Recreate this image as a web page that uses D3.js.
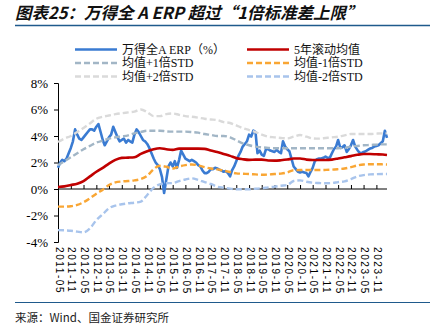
<!DOCTYPE html>
<html><head><meta charset="utf-8">
<script src="https://cdn.jsdelivr.net/npm/d3@7"></script>
<style>
html,body{margin:0;padding:0;background:#fff;}
svg{display:block;}
</style></head>
<body>
<svg id="chart" width="430" height="331"></svg>
<script>
// ---- data ----
const startMonth = "2011-05";
const tickLabels = ["2011-05","2011-11","2012-05","2012-11","2013-05","2013-11","2014-05","2014-11",
  "2015-05","2015-11","2016-05","2016-11","2017-05","2017-11","2018-05","2018-11","2019-05","2019-11",
  "2020-05","2020-11","2021-05","2021-11","2022-05","2022-11","2023-05","2023-11"];
const yTicks = [-4, -2, 0, 2, 4, 6, 8];

// monthly ERP (%) from 2011-05
const erpValues = [1.6,2.0,2.2,2.1,2.3,2.7,3.1,3.6,4.5,4.1,3.8,3.7,3.9,4.1,4.3,4.5,4.5,4.4,4.7,4.9,
  4.3,3.7,3.3,3.6,3.9,4.1,4.7,4.3,3.9,3.6,3.7,3.8,3.5,3.7,3.6,3.5,4.1,4.5,4.3,4.0,
  3.7,3.6,3.4,3.1,2.7,2.3,2.0,1.8,1.5,0.9,-0.3,0.7,1.7,2.0,1.7,2.1,1.6,2.2,2.9,2.6,
  2.3,2.2,2.1,2.2,2.1,2.0,1.8,1.7,1.4,1.2,1.2,1.3,1.5,1.5,1.6,1.55,1.45,1.4,1.3,1.35,
  1.2,0.95,1.4,1.7,2.1,2.5,2.8,3.2,3.4,3.6,4.1,3.95,4.4,4.3,2.7,2.9,2.6,2.5,3.0,3.0,
  2.9,2.85,2.8,2.95,2.8,2.7,3.6,3.2,3.0,2.85,2.3,1.7,1.5,1.3,1.25,1.3,1.25,1.2,0.95,1.3,
  1.6,2.1,2.25,2.3,2.3,2.35,2.45,2.35,2.35,2.7,3.0,3.2,3.7,3.1,3.15,3.3,2.8,3.0,3.3,3.7,
  3.2,2.95,2.75,2.7,2.8,2.85,2.95,3.05,3.1,3.2,3.25,3.3,3.45,3.6,4.4,3.85];

// band series, month offsets from 2011-05
const bandMonths = [0,3,6,9,12,15,18,21,24,27,30,33,36,39,42,45,48,51,54,57,60,63,66,69,72,75,78,81,84,87,
  90,93,96,99,102,105,108,111,114,117,120,123,126,129,132,135,138,141,144,147,150,153,155];
const rollingMean = [0.15,0.2,0.3,0.4,0.6,0.95,1.3,1.6,1.92,2.2,2.35,2.37,2.4,2.65,2.85,3.0,3.07,3.0,2.95,3.05,
  3.05,3.05,3.05,3.03,2.9,2.8,2.65,2.5,2.33,2.25,2.2,2.22,2.22,2.15,2.14,2.17,2.22,2.3,2.3,2.22,
  2.19,2.19,2.19,2.22,2.3,2.39,2.48,2.58,2.64,2.64,2.62,2.6,2.57];
const upper1 = [1.8,2.1,2.4,2.7,3.0,3.25,3.5,3.65,3.8,3.9,3.97,4.05,4.2,4.3,4.4,4.4,4.4,4.35,4.33,4.33,
  4.33,4.3,4.25,4.15,4.08,4.0,4.0,3.9,3.68,3.45,3.3,3.2,3.15,3.1,3.07,3.07,3.07,3.07,3.07,3.07,
  3.07,3.07,3.07,3.07,3.08,3.1,3.2,3.25,3.3,3.32,3.35,3.37,3.37];
const lower1 = [-1.33,-1.33,-1.3,-1.2,-1.0,-0.7,-0.35,-0.05,0.3,0.5,0.57,0.6,0.65,0.75,1.0,1.5,1.75,1.68,1.55,1.7,
  1.8,1.85,1.78,1.65,1.55,1.48,1.38,1.28,1.18,1.15,1.13,1.1,1.07,1.09,1.13,1.16,1.25,1.42,1.43,1.43,
  1.43,1.43,1.44,1.46,1.5,1.55,1.65,1.78,1.85,1.87,1.87,1.86,1.85];
const upper2 = [3.55,3.8,4.0,4.3,4.6,4.95,5.3,5.45,5.55,5.65,5.72,5.78,5.84,6.0,5.8,5.5,5.5,5.65,5.7,5.6,
  5.5,5.45,5.38,5.3,5.25,5.2,5.05,4.98,4.8,4.6,4.45,4.3,4.1,3.95,3.9,3.85,3.82,3.95,4.07,3.95,
  3.82,3.8,3.85,3.9,3.95,4.05,4.15,4.15,4.15,4.15,4.18,4.2,4.2];
const lower2 = [-3.1,-3.12,-3.15,-3.22,-3.27,-2.97,-2.35,-1.9,-1.45,-1.25,-1.15,-1.08,-1.03,-0.95,-0.45,0.1,0.35,0.43,0.45,0.6,
  0.72,0.8,0.68,0.52,0.38,0.18,0.1,0.03,-0.02,-0.02,-0.02,0.02,0.05,0.12,0.18,0.25,0.3,0.6,0.65,0.55,
  0.48,0.45,0.43,0.45,0.52,0.58,0.75,0.95,1.05,1.1,1.12,1.13,1.13];

const seriesNames = ["万得全A ERP（%）","5年滚动均值","均值+1倍STD","均值-1倍STD","均值+2倍STD","均值-2倍STD"];
const seriesColors = ["#3a7bd2","#c00000","#a2b6c6","#f9a634","#dadada","#a8c4ec"];

// ---- drawing ----
const svg = d3.select("#chart");
const parse = d3.timeParse("%Y-%m");
const start = parse(startMonth);
const monthDate = m => d3.timeMonth.offset(start, m);

const x = d3.scaleTime().domain([start, monthDate(155)]).range([58, 387]);
const y = d3.scaleLinear().domain([-4, 8]).range([242, 83]);

const serif = "'Liberation Serif','Times New Roman','Noto Sans CJK SC',serif";

// title
svg.append("text").attr("x", 15).attr("y", 19)
  .attr("font-family", "'Noto Sans CJK SC',sans-serif")
  .attr("font-size", 16.5).attr("font-weight", "bold").attr("font-style", "italic")
  .attr("fill", "#111")
  .text("图表25：万得全 A ERP 超过“1倍标准差上限”");
svg.append("line").attr("x1", 15).attr("x2", 430).attr("y1", 25.5).attr("y2", 25.5)
  .attr("stroke", "#1f5a8c").attr("stroke-width", 1.5);

// bottom rule and source
svg.append("line").attr("x1", 15).attr("x2", 430).attr("y1", 302.5).attr("y2", 302.5)
  .attr("stroke", "#1f5a8c").attr("stroke-width", 1.2);
svg.append("text").attr("x", 15).attr("y", 322)
  .attr("font-family", "'Noto Sans CJK SC',sans-serif").attr("font-size", 11.5).attr("fill", "#222")
  .text("来源：Wind、国金证券研究所");

// y axis
const yAxis = svg.append("g").attr("transform", "translate(58,0)")
  .call(d3.axisLeft(y).tickValues(yTicks).tickSize(4).tickFormat(d => d + "%"));
yAxis.select(".domain").attr("stroke", "#000");
yAxis.selectAll(".tick line").attr("stroke", "#000");
yAxis.selectAll("text").attr("font-family", serif).attr("font-size", 13).attr("fill", "#000").attr("x", -10);

// x axis at 0 with ticks inward (up)
const tickDates = tickLabels.map(parse);
const xAxis = svg.append("g").attr("transform", `translate(0,${y(0)})`)
  .call(d3.axisTop(x).tickValues(tickDates).tickSize(4).tickFormat(""));
xAxis.select(".domain").attr("stroke", "#000").attr("d", `M58,0H387`);
xAxis.selectAll(".tick line").attr("stroke", "#000");

// x labels at bottom, rotated
svg.append("g").selectAll("text").data(tickLabels).join("text")
  .attr("transform", d => `translate(${x(parse(d)) + 1},247) rotate(90)`)
  .attr("font-family", "'Liberation Sans',Arial,sans-serif").attr("font-size", 10)
  .attr("letter-spacing", 1.6)
  .attr("dy", "0.35em").attr("fill", "#000")
  .text(d => d);

// lines
const lineGen = d3.line().x(d => x(d[0])).y(d => y(d[1])).curve(d3.curveMonotoneX);
const erpPts = erpValues.map((v, i) => [monthDate(i), v]);
const bandPts = arr => arr.map((v, i) => [monthDate(bandMonths[i]), v]);

const plot = svg.append("g");
plot.append("path").datum(erpPts).attr("d", d3.line().x(d => x(d[0])).y(d => y(d[1])))
  .attr("fill", "none").attr("stroke", seriesColors[0]).attr("stroke-width", 2.6).attr("stroke-linejoin", "round");
plot.append("path").datum(bandPts(rollingMean)).attr("d", lineGen)
  .attr("fill", "none").attr("stroke", seriesColors[1]).attr("stroke-width", 2.6);
[[upper1, 2], [lower1, 3], [upper2, 4], [lower2, 5]].forEach(([arr, k]) => {
  plot.append("path").datum(bandPts(arr)).attr("d", lineGen)
    .attr("fill", "none").attr("stroke", seriesColors[k]).attr("stroke-width", 2.4)
    .attr("stroke-dasharray", "6,3");
});

// legend
const legendPos = [[75, 49.5], [247, 49.5], [75, 63], [247, 63], [75, 76.5], [247, 76.5]];
const leg = svg.append("g");
seriesNames.forEach((name, i) => {
  const [lx, ly] = legendPos[i];
  leg.append("line").attr("x1", lx).attr("x2", lx + 42).attr("y1", ly).attr("y2", ly)
    .attr("stroke", seriesColors[i]).attr("stroke-width", 2.4)
    .attr("stroke-dasharray", i < 2 ? null : "6,3");
  leg.append("text").attr("x", lx + 47).attr("y", ly).attr("dy", "0.35em")
    .attr("font-family", serif).attr("font-size", 12).attr("fill", "#111")
    .text(name);
});
</script>
</body></html>
